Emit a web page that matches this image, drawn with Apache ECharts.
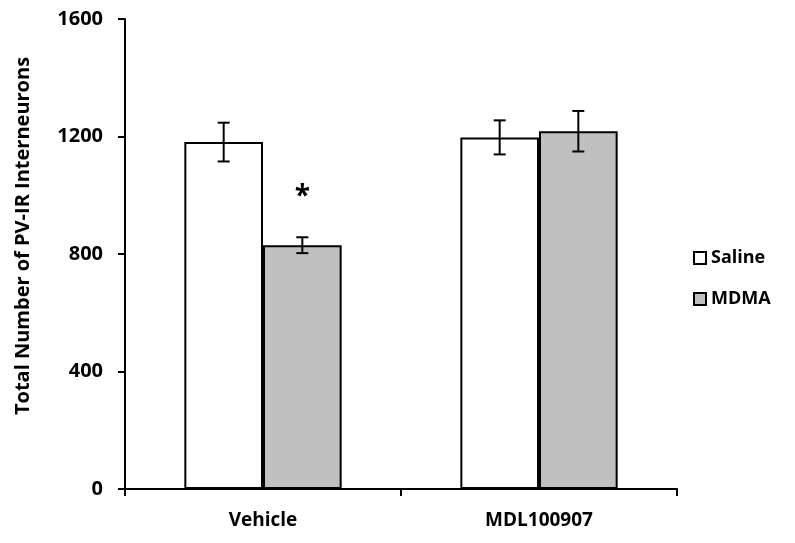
<!DOCTYPE html>
<html>
<head>
<meta charset="utf-8">
<script src="https://cdn.jsdelivr.net/npm/echarts@6/dist/echarts.min.js"></script>
<style>
	html, body { margin: 0; padding: 0; background: #fff; }
	#chart { width: 795px; height: 543px; }
</style>
</head>
<body>
<div id="chart"></div>
<script>
	'use strict'

	var categories = ['Vehicle', 'MDL100907'];
	var salineValues = [1181, 1197];
	var salineErrors = [66, 58];
	var mdmaValues = [830, 1218];
	var mdmaErrors = [27, 69];
	var mdmaMarks = ['*', ''];
	var yTicks = [0, 400, 800, 1200, 1600];

	var font = '"Open Sans", Lato, sans-serif';
	var gapPct = 43;

	// error bars + significance mark, drawn through the axis coords
	function errorSeries(name, values, errors, side, marks) {
		return {
			name: name + ' err',
			type: 'custom',
			data: values.map(function(v, i) { return [i, v, errors[i]]; }),
			encode: { x: 0, y: 1 },
			z: 10,
			renderItem: function(params, api) {
				var i = api.value(0);
				var v = api.value(1);
				var e = api.value(2);
				var catW = api.size([1, 0])[0];
				var barW = catW * (1 - gapPct / 100) / 2;
				var base = api.coord([i, v]);
				var x = base[0] + side * barW / 2;
				var top = api.coord([i, v + e])[1];
				var bot = api.coord([i, v - e])[1];
				var hw = 6;
				var st = { stroke: '#000', lineWidth: 2 };
				var children = [
					{ type: 'line', shape: { x1: x, y1: top, x2: x, y2: bot }, style: st },
					{ type: 'line', shape: { x1: x - hw, y1: top, x2: x + hw, y2: top }, style: st },
					{ type: 'line', shape: { x1: x - hw, y1: bot, x2: x + hw, y2: bot }, style: st }
				];
				var mark = marks ? marks[i] : '';
				if (mark) {
					children.push({
						type: 'text',
						style: {
							text: mark, x: x, y: top - 40,
							align: 'center', verticalAlign: 'middle',
							font: 'bold 28px ' + font, fill: '#000'
						}
					});
				}
				return { type: 'group', children: children };
			}
		};
	}

	var chart = echarts.init(document.getElementById('chart'));
	chart.setOption({
		animation: false,
		backgroundColor: '#fff',
		grid: { left: 125, right: 118, top: 19, bottom: 54 },
		legend: {
			orient: 'vertical',
			left: 688,
			top: 244,
			itemWidth: 12,
			itemHeight: 12,
			itemGap: 23,
			icon: 'rect',
			data: ['Saline', 'MDMA'],
			textStyle: { fontFamily: font, fontWeight: 'bold', fontSize: 18, color: '#000' }
		},
		xAxis: {
			type: 'category',
			data: categories,
			axisLine: { lineStyle: { color: '#000', width: 2 } },
			axisTick: { show: true, length: 7, lineStyle: { color: '#000', width: 2 } },
			axisLabel: { fontFamily: font, fontWeight: 'bold', fontSize: 19, color: '#000', margin: 22 }
		},
		yAxis: {
			type: 'value',
			min: yTicks[0],
			max: yTicks[yTicks.length - 1],
			interval: 400,
			name: 'Total Number of PV-IR Interneurons',
			nameLocation: 'middle',
			nameGap: 92,
			nameTextStyle: { fontFamily: font, fontWeight: 'bold', fontSize: 20, color: '#000', padding: [0, 0, 0, 36] },
			axisLine: { show: true, lineStyle: { color: '#000', width: 2 } },
			axisTick: { show: true, length: 7, lineStyle: { color: '#000', width: 2 } },
			axisLabel: {
				fontFamily: font, fontWeight: 'bold', fontSize: 20, color: '#000', margin: 22,
				formatter: function(v) { return String(v); }
			},
			splitLine: { show: false }
		},
		series: [
			{
				name: 'Saline',
				type: 'bar',
				data: salineValues,
				barGap: '0%',
				barCategoryGap: gapPct + '%',
				itemStyle: { color: '#fff', borderColor: '#000', borderWidth: 2 }
			},
			{
				name: 'MDMA',
				type: 'bar',
				data: mdmaValues,
				barGap: '0%',
				barCategoryGap: gapPct + '%',
				itemStyle: { color: '#c0c0c0', borderColor: '#000', borderWidth: 2 }
			},
			errorSeries('Saline', salineValues, salineErrors, -1, null),
			errorSeries('MDMA', mdmaValues, mdmaErrors, 1, mdmaMarks)
		]
	});
</script>
</body>
</html>
